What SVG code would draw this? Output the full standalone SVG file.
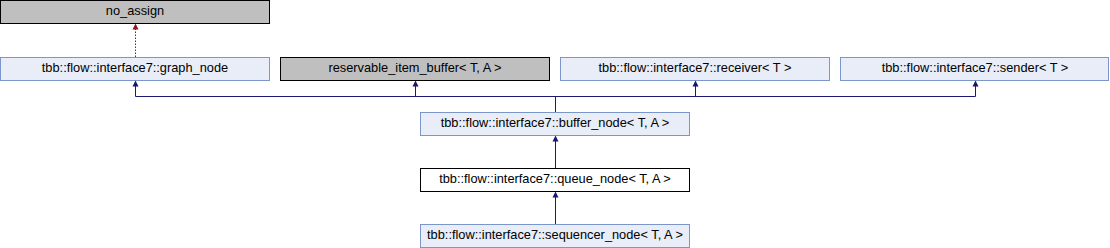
<svg xmlns="http://www.w3.org/2000/svg" width="1110" height="248" viewBox="0 0 1110 248">
<style>
.n rect{stroke-width:1}
.doc rect{fill:#e8edf7;stroke:#7b96cb}
.grey rect{fill:#bfbfbf;stroke:#000}
.plain rect{fill:#fff;stroke:#000}
text{font-family:"Liberation Sans",Arial,sans-serif;font-size:12.8px;text-anchor:middle;fill:#000}
.e{fill:none;stroke:#191970;stroke-width:1}
.d{fill:none;stroke:#8b1a1a;stroke-width:1;stroke-dasharray:1.5,1.5}
.ah{fill:#191970}
.ahd{fill:#8b1a1a}
</style>
<g id="no_assign" class="n grey"><rect x="0.5" y="0.5" width="269" height="23"/><text x="135" y="15">no_assign</text></g>
<g id="graph_node" class="n doc"><rect x="0.5" y="57.5" width="269" height="23"/><text x="135" y="72">tbb::flow::interface7::graph_node</text></g>
<g id="reservable_item_buffer" class="n grey"><rect x="280.5" y="57.5" width="269" height="23"/><text x="415" y="72">reservable_item_buffer&lt; T, A &gt;</text></g>
<g id="receiver" class="n doc"><rect x="560.5" y="57.5" width="269" height="23"/><text x="695" y="72">tbb::flow::interface7::receiver&lt; T &gt;</text></g>
<g id="sender" class="n doc"><rect x="840.5" y="57.5" width="268" height="23"/><text x="975" y="72">tbb::flow::interface7::sender&lt; T &gt;</text></g>
<g id="buffer_node" class="n doc"><rect x="420.5" y="112.5" width="269" height="23"/><text x="555" y="127">tbb::flow::interface7::buffer_node&lt; T, A &gt;</text></g>
<g id="queue_node" class="n plain"><rect x="420.5" y="168.5" width="269" height="23"/><text x="555" y="183">tbb::flow::interface7::queue_node&lt; T, A &gt;</text></g>
<g id="sequencer_node" class="n doc"><rect x="420.5" y="224.5" width="269" height="23"/><text x="555" y="239">tbb::flow::interface7::sequencer_node&lt; T, A &gt;</text></g>
<g id="connectors">
<path class="d" d="M135.5 57 V29"/>
<polygon class="ahd" points="135.5,23.5 132.5,29.5 138.5,29.5"/>
<path class="e" d="M135.5 86 V96.5 H975.5 V86 M415.5 86 V96.5 M695.5 86 V96.5 M555.5 96.5 V112"/>
<polygon class="ah" points="135.5,80.5 132.5,86.5 138.5,86.5"/>
<polygon class="ah" points="415.5,80.5 412.5,86.5 418.5,86.5"/>
<polygon class="ah" points="695.5,80.5 692.5,86.5 698.5,86.5"/>
<polygon class="ah" points="975.5,80.5 972.5,86.5 978.5,86.5"/>
<path class="e" d="M555.5 168 V141"/>
<polygon class="ah" points="555.5,135.5 552.5,141.5 558.5,141.5"/>
<path class="e" d="M555.5 224 V197"/>
<polygon class="ah" points="555.5,191.5 552.5,197.5 558.5,197.5"/>
</g>
</svg>
